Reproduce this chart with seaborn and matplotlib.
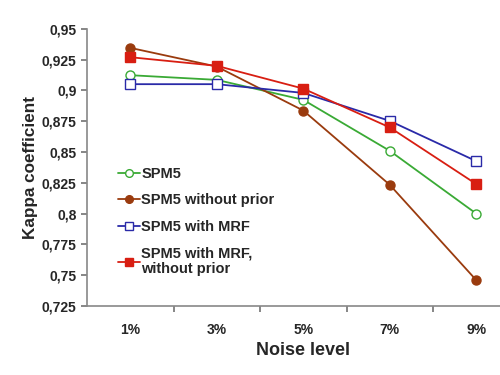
import matplotlib
matplotlib.use("Agg")
import matplotlib.pyplot as plt
import pandas as pd
import seaborn as sns

sns.set_theme(style="ticks", context="notebook")
plt.rcParams['font.family'] = ['Liberation Sans', 'DejaVu Sans']
plt.rcParams['font.weight'] = 'bold'

noise = ["1%", "3%", "5%", "7%", "9%"]
spm5 = [0.9124, 0.9086, 0.8924, 0.851, 0.800]
spm5_noprior = [0.9346, 0.9194, 0.8837, 0.8234, 0.746]
spm5_mrf = [0.9051, 0.9051, 0.898, 0.8753, 0.8426]
spm5_mrf_noprior = [0.927, 0.920, 0.9015, 0.870, 0.824]

series = [
    ("SPM5", spm5, "#3aaa35", "o", "white"),
    ("SPM5 without prior", spm5_noprior, "#9a3b0e", "o", None),
    ("SPM5 with MRF", spm5_mrf, "#2a2aa8", "s", "white"),
    ("SPM5 with MRF,\nwithout prior", spm5_mrf_noprior, "#d81e12", "s", None),
]

fig = plt.figure(figsize=(5, 3.75), dpi=100)
ax = fig.add_axes([0.174, 0.184, 0.865, 0.739])

for name, vals, col, mk, face in series:
    df = pd.DataFrame({"x": range(len(noise)), "y": vals})
    sns.lineplot(data=df, x="x", y="y", ax=ax, color=col, marker=mk,
                 markersize=6.5, linewidth=1.3, label=name,
                 markerfacecolor=face if face else col,
                 markeredgecolor=col, markeredgewidth=1.0)

ax.set_xlim(-0.5, 4.5)
ax.set_ylim(0.725, 0.95)
yt = [0.725 + 0.025 * i for i in range(10)]
ax.set_yticks(yt)
ax.set_yticklabels([("%g" % round(v, 3)).replace(".", ",") for v in yt],
                   fontsize=10, fontweight='bold')
ax.set_xticks([0.5, 1.5, 2.5, 3.5])
ax.set_xticklabels([])
ax.set_xticks(range(len(noise)), minor=True)
ax.set_xticklabels(noise, minor=True, fontsize=10, fontweight='bold')
ax.tick_params(axis='x', which='minor', length=0, pad=12)
ax.tick_params(axis='x', which='major', length=4, color='#777777')
ax.tick_params(axis='y', length=4, color='#777777')
for s in ['top', 'right']:
    ax.spines[s].set_visible(False)
for s in ['left', 'bottom']:
    ax.spines[s].set_color('#888888')
    ax.spines[s].set_linewidth(1.2)

ax.set_xlabel("Noise level", fontsize=13, fontweight='bold', labelpad=4)
ax.set_ylabel("Kappa coefficient", fontsize=12.3, fontweight='bold', labelpad=3)

leg = ax.legend(loc='upper left', bbox_to_anchor=(0.21, 0.59),
                bbox_transform=fig.transFigure, frameon=False,
                prop={'size': 10.5, 'weight': 'bold'}, handlelength=1.5,
                handletextpad=0.1, labelspacing=0.85, markerscale=0.85)

fig.savefig("out.png", dpi=100)
